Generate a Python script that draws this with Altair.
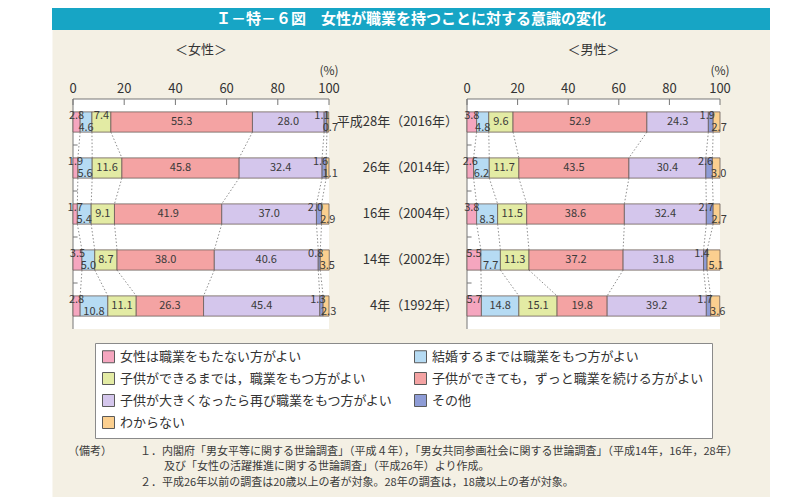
import altair as alt
import pandas as pd

title_text = "Ｉ－特－６図　女性が職業を持つことに対する意識の変化"
panel_titles = ["＜女性＞", "＜男性＞"]
categories = [
    "女性は職業をもたない方がよい",
    "結婚するまでは職業をもつ方がよい",
    "子供ができるまでは，職業をもつ方がよい",
    "子供ができても，ずっと職業を続ける方がよい",
    "子供が大きくなったら再び職業をもつ方がよい",
    "その他",
    "わからない",
]
colors = ["#f5a6bf", "#b6dbf3", "#e3eba4", "#f4a3a3", "#d4c6ec", "#8e9cd6", "#fbcf8f"]
years = ["平成28年（2016年）", "26年（2014年）", "16年（2004年）", "14年（2002年）", "4年（1992年）"]

female_2016 = [2.8, 4.6, 7.4, 55.3, 28.0, 1.1, 0.7]
female_2014 = [1.9, 5.6, 11.6, 45.8, 32.4, 1.6, 1.1]
female_2004 = [1.7, 5.4, 9.1, 41.9, 37.0, 2.0, 2.9]
female_2002 = [3.5, 5.0, 8.7, 38.0, 40.6, 0.8, 3.5]
female_1992 = [2.8, 10.8, 11.1, 26.3, 45.4, 1.3, 2.3]

male_2016 = [3.8, 4.8, 9.6, 52.9, 24.3, 1.9, 2.7]
male_2014 = [2.6, 6.2, 11.7, 43.5, 30.4, 2.6, 3.0]
male_2004 = [3.8, 8.3, 11.5, 38.6, 32.4, 2.7, 2.7]
male_2002 = [5.5, 7.7, 11.3, 37.2, 31.8, 1.4, 5.1]
male_1992 = [5.7, 14.8, 15.1, 19.8, 39.2, 1.7, 3.6]

female_rows = [female_2016, female_2014, female_2004, female_2002, female_1992]
male_rows = [male_2016, male_2014, male_2004, male_2002, male_1992]

axis_ticks = [0, 20, 40, 60, 80, 100]

note_head = "（備考）"
note_1 = "１．内閣府「男女平等に関する世論調査」（平成４年），「男女共同参画社会に関する世論調査」（平成14年，16年，28年）"
note_1b = "及び「女性の活躍推進に関する世論調査」（平成26年）より作成。"
note_2 = "２．平成26年以前の調査は20歳以上の者が対象。28年の調査は，18歳以上の者が対象。"

FONT = "Noto Sans CJK JP"
TEXT = "#333333"
H = 0.22
W, HT = 718, 489
YS = alt.Scale(domain=[-0.5, 4.5], range=[91, 321], nice=False, zero=False)

# legend fills column by column: order the domain so it reads row by row
legend_order = [0, 2, 4, 6, 1, 3, 5]
legend_domain = [categories[i] for i in legend_order]
legend_range = [colors[i] for i in legend_order]


def build(rows):
    segs, links, ends = [], [], []
    for i, vals in enumerate(rows):
        s = 0.0
        row_ends = []
        for k, v in enumerate(vals):
            e = s + v
            shift = 0.0
            if k == 0:
                pos = -1
            elif k == 5:
                pos, shift = -1, -1.4
            elif k == 1:
                pos = 1 if v < 11 else 0
            elif k == 2:
                pos = -1 if v < 8 else 0
            elif k == 6:
                pos, shift = 1, 1.0
            else:
                pos = 0
            segs.append(dict(row=i, y0=i - H, y1=i + H, cat=categories[k], start=s, end=e,
                             label=f"{v:.1f}", lx=(s + e) / 2 + shift, ly=i + 0.125 * pos))
            row_ends.append(e)
            s = e
        ends.append(row_ends)
    for i in range(len(rows) - 1):
        for k in range(6):
            links.append(dict(x=ends[i][k], x2=ends[i + 1][k], y=i + H, y2=i + 1 - H))
    return pd.DataFrame(segs), pd.DataFrame(links)


color_enc = alt.Color(
    "cat:N",
    scale=alt.Scale(domain=legend_domain, range=legend_range),
    legend=alt.Legend(
        orient="none", legendX=43, legendY=335, columns=2, title=None,
        symbolType="square", symbolSize=144, symbolStrokeColor="#5a5a5a", symbolStrokeWidth=1,
        labelFont=FONT, labelFontSize=13, labelColor=TEXT, labelLimit=400, labelOffset=5,
        fillColor="white", strokeColor="#8a8a8a", padding=7, rowPadding=5, columnPadding=18,
    ),
)


def panel_layers(rows, xrange, ptitle):
    seg, link = build(rows)
    XS = alt.Scale(domain=[0, 100], range=xrange, nice=False, zero=False)
    frame = pd.DataFrame({"a": [0], "b": [100], "c": [-0.5], "d": [4.5]})
    ticks = pd.DataFrame({"v": axis_ticks})
    minor = pd.DataFrame({"a": [0] * 4, "b": [1.8] * 4, "y": [0.5, 1.5, 2.5, 3.5]})
    layers = []
    layers.append(alt.Chart(frame).mark_rect(fill="white").encode(
        x=alt.X("a:Q", scale=XS, axis=None), x2="b",
        y=alt.Y("c:Q", scale=YS, axis=None), y2="d"))
    layers.append(alt.Chart(frame).mark_rule(color="#777", strokeWidth=1).encode(
        x=alt.X("a:Q", scale=XS, axis=None), x2="b",
        y=alt.Y("c:Q", scale=YS, axis=None)))
    layers.append(alt.Chart(frame).mark_rule(color="#777", strokeWidth=1).encode(
        x=alt.X("a:Q", scale=XS, axis=None),
        y=alt.Y("c:Q", scale=YS, axis=None), y2="d"))
    layers.append(alt.Chart(ticks).mark_rule(color="#777", strokeWidth=1).encode(
        x=alt.X("v:Q", scale=XS, axis=None), y=alt.value(91), y2=alt.value(97)))
    layers.append(alt.Chart(minor).mark_rule(color="#777", strokeWidth=1).encode(
        x=alt.X("a:Q", scale=XS, axis=None), x2="b",
        y=alt.Y("y:Q", scale=YS, axis=None)))
    layers.append(alt.Chart(link).mark_rule(color="#808080", strokeWidth=0.9, strokeDash=[1.5, 2]).encode(
        x=alt.X("x:Q", scale=XS, axis=None), x2="x2",
        y=alt.Y("y:Q", scale=YS, axis=None), y2="y2"))
    layers.append(alt.Chart(seg).mark_rect(stroke="#6b5d58", strokeWidth=0.8).encode(
        x=alt.X("start:Q", scale=XS, axis=None), x2="end",
        y=alt.Y("y0:Q", scale=YS, axis=None), y2="y1",
        color=color_enc))
    layers.append(alt.Chart(seg).mark_text(font=FONT, fontSize=11, color="#3a3a3a").encode(
        x=alt.X("lx:Q", scale=XS, axis=None),
        y=alt.Y("ly:Q", scale=YS, axis=None), text="label:N"))
    layers.append(alt.Chart(ticks).mark_text(font=FONT, fontSize=13, color=TEXT).encode(
        x=alt.X("v:Q", scale=XS, axis=None), y=alt.value(81), text="v:Q"))
    layers.append(alt.Chart(pd.DataFrame({"v": [100], "t": ["(%)"]})).mark_text(
        font=FONT, fontSize=12, color=TEXT).encode(
        x=alt.X("v:Q", scale=XS, axis=None), y=alt.value(63), text="t:N"))
    layers.append(alt.Chart(pd.DataFrame({"v": [50], "t": [ptitle]})).mark_text(
        font=FONT, fontSize=13, color=TEXT).encode(
        x=alt.X("v:Q", scale=XS, axis=None), y=alt.value(42), text="t:N"))
    return layers


common = []
common.append(alt.Chart(pd.DataFrame({"t": [title_text]})).mark_rect(color="#17a5c5").encode(
    x=alt.value(0), x2=alt.value(W), y=alt.value(0), y2=alt.value(22)))
common.append(alt.Chart(pd.DataFrame({"t": [title_text]})).mark_text(
    font=FONT, fontSize=15, fontWeight="bold", color="white", baseline="middle").encode(
    x=alt.value(W / 2), y=alt.value(11), text="t:N"))
common.append(alt.Chart(pd.DataFrame({"row": list(range(len(years))), "t": years})).mark_text(
    font=FONT, fontSize=13, color=TEXT, align="right").encode(
    x=alt.value(406), y=alt.Y("row:Q", scale=YS, axis=None), text="t:N"))
for txt, px, py in [(note_head, 16, 444), (note_1, 88, 444), (note_1b, 112, 459), (note_2, 88, 475)]:
    common.append(alt.Chart(pd.DataFrame({"t": [txt]})).mark_text(
        font=FONT, fontSize=11, color="#3a3a3a", align="left").encode(
        x=alt.value(px), y=alt.value(py), text="t:N"))

layers = (panel_layers(female_rows, [21, 277], panel_titles[0])
          + panel_layers(male_rows, [415, 668], panel_titles[1])
          + common)

chart = alt.layer(*layers).resolve_scale(x="independent").properties(
    width=W, height=HT,
    autosize=alt.AutoSizeParams(type="none"),
    padding={"left": 44, "top": 0, "right": 0, "bottom": 0},
    background="white",
).configure_view(fill="#f4f0e4", stroke="transparent")

chart.save("out.html", embed_options={"renderer": "svg", "actions": False})
